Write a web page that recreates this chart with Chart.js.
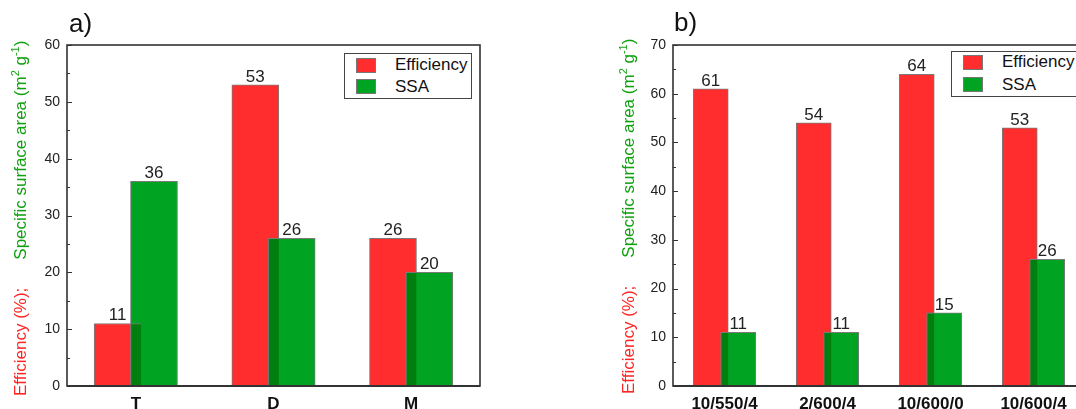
<!DOCTYPE html>
<html><head><meta charset="utf-8">
<script src="https://cdn.jsdelivr.net/npm/chart.js@4.4.1/dist/chart.umd.min.js"></script>
<style>
html,body{margin:0;padding:0;background:#fff;overflow:hidden;width:1076px;height:409px;position:relative;font-family:Arial,"Liberation Sans",sans-serif;}
canvas{position:absolute;top:0;}
#c1{left:0}
#c2{left:540px}
.panel{position:absolute;font-size:26px;line-height:26px;color:#111;white-space:nowrap;}
.ytitle{position:absolute;white-space:nowrap;font-size:17px;line-height:20px;transform-origin:0 0;transform:rotate(-90deg);}
.ytitle sup{font-size:11px;line-height:0;vertical-align:0;position:relative;top:-7px;}
.lbox{position:absolute;border:1.5px solid #444;box-sizing:border-box;background:#fff;}
.sw{position:absolute;width:20px;height:15px;box-sizing:border-box;border:1px solid #777;}
.lt{position:absolute;font-size:17px;line-height:17px;color:#111;white-space:nowrap;}
</style></head>
<body>
<canvas id="c1" width="540" height="409"></canvas>
<canvas id="c2" width="560" height="409"></canvas>

<div class="panel" style="left:69px;top:10px">a)</div>
<div class="panel" style="left:674px;top:9px">b)</div>

<div class="ytitle" style="left:11px;top:396px"><span style="color:#ff2424">Efficiency (%);</span><span style="display:inline-block;width:28px"></span><span style="color:#10a010">Specific surface area (m<sup>2</sup> g<sup>-1</sup>)</span></div>
<div class="ytitle" style="left:619px;top:394px"><span style="color:#ff2424">Efficiency (%);</span><span style="display:inline-block;width:28px"></span><span style="color:#10a010">Specific surface area (m<sup>2</sup> g<sup>-1</sup>)</span></div>

<div class="lbox" style="left:344px;top:53px;width:128px;height:46px"></div>
<div class="sw" style="left:356px;top:58px;background:#ff2d2d"></div>
<div class="sw" style="left:356px;top:79px;background:#00a322"></div>
<div class="lt" style="left:395px;top:56px">Efficiency</div>
<div class="lt" style="left:395px;top:78px">SSA</div>

<div class="lbox" style="left:951px;top:51px;width:200px;height:46px"></div>
<div class="sw" style="left:963px;top:55px;background:#ff2d2d"></div>
<div class="sw" style="left:963px;top:77px;background:#00a322"></div>
<div class="lt" style="left:1002px;top:53px">Efficiency</div>
<div class="lt" style="left:1002px;top:76px">SSA</div>

<script>
// ---- data ----
const categoriesA = ['T', 'D', 'M'];
const efficiencyA = [11, 53, 26];
const ssaA = [36, 26, 20];
const yTicksA = [0, 10, 20, 30, 40, 50, 60];

const categoriesB = ['10/550/4', '2/600/4', '10/600/0', '10/600/4'];
const efficiencyB = [61, 54, 64, 53];
const ssaB = [11, 11, 15, 26];
const yTicksB = [0, 10, 20, 30, 40, 50, 60, 70];

// ---- style ----
const RED = '#ff2d2d';
const GREEN = '#00a322';
const DARK = '#007f0e';
const EDGE = '#7a7a7a';
const FONT = 'Arial, "Liberation Sans", sans-serif';

const framePlugin = {
  id: 'frame',
  afterDatasetsDraw(chart) {
    const { ctx, chartArea: a, scales: { y } } = chart;
    ctx.save();
    ctx.strokeStyle = '#333';
    ctx.lineWidth = 1;
    for (let v = 0; v <= y.max; v += 5) {
      const py = Math.round(y.getPixelForValue(v)) + 0.5;
      const len = (v % 10 === 0) ? 5 : 3;
      ctx.beginPath(); ctx.moveTo(a.left, py); ctx.lineTo(a.left + len, py); ctx.stroke();
    }
    ctx.lineWidth = 1.6;
    ctx.strokeRect(a.left, a.top, a.right - a.left, a.bottom - a.top);
    ctx.lineWidth = 2;
    ctx.beginPath(); ctx.moveTo(a.left, a.bottom); ctx.lineTo(a.right, a.bottom); ctx.stroke();
    ctx.restore();
  }
};

const valuePlugin = {
  id: 'values',
  afterDatasetsDraw(chart) {
    const ctx = chart.ctx;
    ctx.save();
    ctx.font = '17px ' + FONT;
    ctx.fillStyle = '#222';
    ctx.textAlign = 'center';
    ctx.textBaseline = 'alphabetic';
    chart.data.datasets.forEach((ds, i) => {
      if (!ds.showValues) return;
      chart.getDatasetMeta(i).data.forEach((bar, j) => {
        ctx.fillText(String(ds.data[j].y), bar.x, bar.y - 3);
      });
    });
    ctx.restore();
  }
};

function makeChart(id, cats, eff, ssa, yTicks, cfg) {
  const yMax = yTicks[yTicks.length - 1];
  const datasets = [
    { label: 'Efficiency', data: cats.map((_, i) => ({ x: i - cfg.shift, y: eff[i] })),
      backgroundColor: RED, borderColor: EDGE, borderWidth: 1, barThickness: cfg.thick,
      grouped: false, order: 2, showValues: true },
    { label: 'SSA', data: cats.map((_, i) => ({ x: i + cfg.shift, y: ssa[i] })),
      backgroundColor: GREEN, borderColor: EDGE, borderWidth: 1, barThickness: cfg.thick,
      grouped: false, order: 1, showValues: true },
    { label: 'overlap', data: cats.map((_, i) => ({ x: i, y: Math.min(eff[i], ssa[i]) })),
      backgroundColor: DARK, borderColor: EDGE, borderWidth: { left: 1, top: 1, right: 0, bottom: 0 },
      barThickness: cfg.overlap, grouped: false, order: 0 }
  ];
  return new Chart(document.getElementById(id), {
    type: 'bar',
    data: { datasets },
    options: {
      responsive: false,
      animation: false,
      devicePixelRatio: 1,
      layout: { padding: { left: 0, top: 45, right: cfg.padRight, bottom: 0 } },
      plugins: { legend: { display: false }, tooltip: { enabled: false } },
      scales: {
        x: {
          type: 'linear', min: -0.5, max: cats.length - 0.5, offset: false,
          grid: { display: false, drawTicks: false }, border: { display: false },
          afterBuildTicks(s) { s.ticks = cats.map((_, i) => ({ value: i })); },
          afterFit(s) { s.height = 23; },
          ticks: { autoSkip: false, maxRotation: 0, minRotation: 0, padding: 8, color: '#111',
                   font: { size: 17, weight: 'bold', family: FONT },
                   callback: (v) => cats[Math.round(v)] }
        },
        y: {
          min: 0, max: yMax,
          grid: { display: false, drawTicks: false }, border: { display: false },
          afterBuildTicks(s) { s.ticks = yTicks.map(v => ({ value: v })); },
          afterFit(s) { s.width = cfg.yWidth; },
          ticks: { padding: 7, color: '#222', font: { size: 14, family: FONT } }
        }
      }
    },
    plugins: [framePlugin, valuePlugin]
  });
}

makeChart('c1', categoriesA, efficiencyA, ssaA, yTicksA,
  { shift: 0.132, thick: 47, overlap: 10.5, padRight: 60, yWidth: 67 });
makeChart('c2', categoriesB, efficiencyB, ssaB, yTicksB,
  { shift: 0.1335, thick: 35, overlap: 7.5, padRight: 15, yWidth: 133 });
</script>
</body></html>
